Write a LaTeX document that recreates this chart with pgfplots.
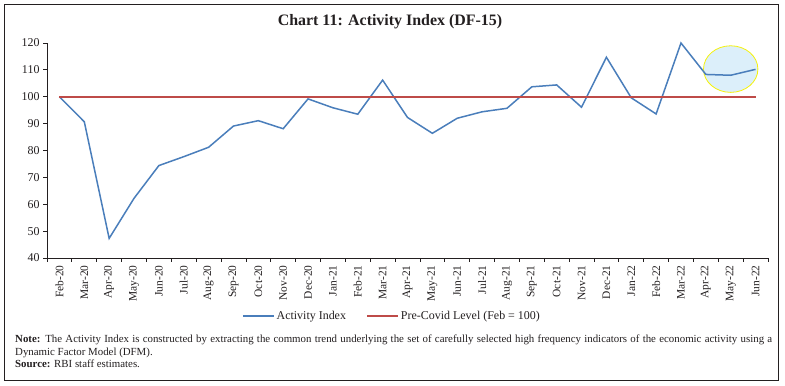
\documentclass[border=0pt]{standalone}
\usepackage{pgfplots}
\pgfplotsset{compat=1.18}
\usepackage{fontspec}
\setmainfont{Liberation Serif}
\definecolor{ablue}{HTML}{4A7EBB}
\definecolor{ared}{HTML}{BE4B48}
\definecolor{efill}{HTML}{DCEFFA}
\definecolor{eline}{HTML}{F5F20A}
\definecolor{txt}{HTML}{231F20}
\begin{document}
\begin{tikzpicture}
\path (0,0) rectangle (785bp,386bp);
\draw[txt, line width=1bp] (4.5bp,5.5bp) rectangle (778bp,381bp);
\node[font=\fontsize{16}{19}\selectfont\bfseries, text=txt] at (390bp,364bp) {Chart 11: Activity Index (DF-15)};
\begin{axis}[
  at={(47bp,128bp)}, anchor=south west,
  scale only axis, width=721bp, height=215bp,
  xmin=-0.5, xmax=28.5, ymin=40, ymax=120,
  axis x line*=bottom, axis y line*=left,
  axis line style={txt, line width=0.8bp},
  tick align=outside,
  major tick length=4bp, minor tick length=4bp,
  ytick={40,50,...,120},
  xtick={0,...,28},
  xticklabels={Feb-20,Mar-20,Apr-20,May-20,Jun-20,Jul-20,Aug-20,Sep-20,Oct-20,Nov-20,Dec-20,Jan-21,Feb-21,Mar-21,Apr-21,May-21,Jun-21,Jul-21,Aug-21,Sep-21,Oct-21,Nov-21,Dec-21,Jan-22,Feb-22,Mar-22,Apr-22,May-22,Jun-22},
  minor xtick={-0.5,0.5,...,28.5},
  major x tick style={draw=none},
  minor x tick style={txt, line width=0.8bp},
  major y tick style={txt, line width=0.8bp},
  xticklabel style={rotate=90, anchor=east, font=\fontsize{11.5}{13}\selectfont, text=txt},
  yticklabel style={font=\fontsize{12}{14}\selectfont, text=txt},
  /pgf/number format/assume math mode=true,
  legend columns=2,
  legend style={at={(0.4785,-0.27)}, anchor=center, draw=none, fill=none,
    font=\fontsize{12}{14}\selectfont, text=txt,
    /tikz/every even column/.append style={column sep=18bp}},
  legend image code/.code={\draw[#1] (0bp,0bp) -- (31bp,0bp);},
  clip=false,
]
\filldraw[fill=efill, draw=eline, line width=0.8bp] (axis cs:27,110.3) ellipse [x radius=27.2bp, y radius=23.3bp];
\addplot[ablue, line width=1.5bp] coordinates {
(0,100) (1,90.7) (2,47.3) (3,62.2) (4,74.4) (5,77.7) (6,81.2) (7,89.1) (8,91.1) (9,88.1)
(10,99.2) (11,95.9) (12,93.5) (13,106.2) (14,92.3) (15,86.4) (16,92.0) (17,94.4) (18,95.7)
(19,103.7) (20,104.4) (21,96.1) (22,114.7) (23,99.6) (24,93.6) (25,120.0) (26,108.3) (27,108.0) (28,110.2)
};
\addlegendentry{Activity Index}
\addplot[ared, line width=2bp] coordinates {(0,100) (28,100)};
\addlegendentry{Pre-Covid Level (Feb = 100)}
\end{axis}
\node[anchor=north west, inner sep=0pt, text width=757bp, align=justify,
  font=\fontsize{10.9}{12.6}\selectfont, text=txt] at (15bp,51bp)
  {\textbf{Note:} The Activity Index is constructed by extracting the common trend underlying the set of carefully selected high frequency indicators of the economic activity using a\linebreak Dynamic Factor Model (DFM).\\
  \textbf{Source:} RBI staff estimates.};
\end{tikzpicture}
\end{document}
